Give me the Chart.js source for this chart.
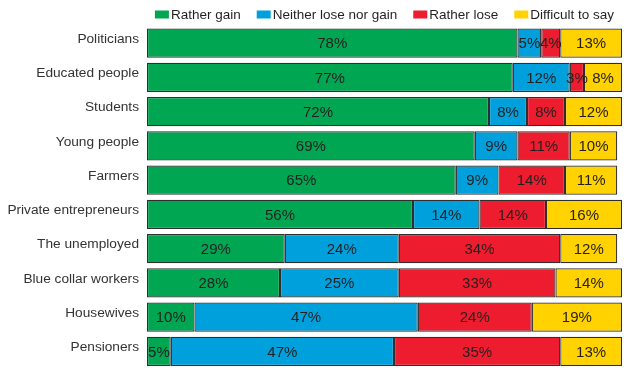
<!DOCTYPE html>
<html>
<head>
<meta charset="utf-8">
<script src="https://cdn.jsdelivr.net/npm/chart.js@4/dist/chart.umd.min.js"></script>
<style>
  body { margin: 0; background: #fff; }
  #box { width: 624px; height: 374px; }
</style>
</head>
<body>
<div id="box"><canvas id="graphe"></canvas></div>
<script>
// groups and answers (in %)
const groups = ['Politicians', 'Educated people', 'Students', 'Young people', 'Farmers',
  'Private entrepreneurs', 'The unemployed', 'Blue collar workers', 'Housewives', 'Pensioners'];
const ratherGain = [78, 77, 72, 69, 65, 56, 29, 28, 10, 5];
const neitherLoseNorGain = [5, 12, 8, 9, 9, 14, 24, 25, 47, 47];
const ratherLose = [4, 3, 8, 11, 14, 14, 34, 33, 24, 35];
const difficultToSay = [13, 8, 12, 10, 11, 16, 12, 14, 19, 13];

const textColor = '#231f20';
const fontFamily = '"Liberation Sans", Arial, sans-serif';

// write the value in the middle of each segment
const segmentLabels = {
    id: 'segmentLabels',
    afterDatasetsDraw(chart) {
        const ctx = chart.ctx;
        ctx.save();
        ctx.font = '15px ' + fontFamily;
        ctx.fillStyle = textColor;
        ctx.textAlign = 'center';
        ctx.textBaseline = 'middle';
        chart.data.datasets.forEach((ds, i) => {
            chart.getDatasetMeta(i).data.forEach((bar, j) => {
                ctx.fillText(ds.data[j] + '%', (bar.x + bar.base) / 2, bar.y + 1);
            });
        });
        ctx.restore();
    }
};

// legend on one line, small gap between box and text, centred on the plot
const topLegend = {
    id: 'topLegend',
    afterDraw(chart) {
        const ctx = chart.ctx;
        const area = chart.chartArea;
        ctx.save();
        ctx.font = '13.5px ' + fontFamily;
        ctx.textBaseline = 'middle';
        const items = chart.data.datasets.map(ds => ({
            text: ds.label, color: ds.backgroundColor, w: ctx.measureText(ds.label).width
        }));
        const boxW = 14, gap = 2, spacing = 16;
        let total = 0;
        items.forEach((it, i) => { total += boxW + gap + it.w + (i ? spacing : 0); });
        let x = (area.left + area.right) / 2 - total / 2;
        items.forEach(it => {
            ctx.fillStyle = it.color;
            ctx.fillRect(x, 10.5, boxW, 8);
            ctx.fillStyle = textColor;
            ctx.fillText(it.text, x + boxW + gap, 15);
            x += boxW + gap + it.w + spacing;
        });
        ctx.restore();
    }
};

function serie(label, data, color) {
    return {
        label: label,
        data: data,
        backgroundColor: color,
        borderColor: '#2e2e2e',
        borderWidth: 1.2,
        borderSkipped: false,
        categoryPercentage: 0.858,
        barPercentage: 1
    };
}

new Chart(document.getElementById('graphe'), {
    type: 'bar',
    data: {
        labels: groups,
        datasets: [
            serie('Rather gain', ratherGain, '#00a651'),
            serie('Neither lose nor gain', neitherLoseNorGain, '#00a0dc'),
            serie('Rather lose', ratherLose, '#ed1c2e'),
            serie('Difficult to say', difficultToSay, '#ffd200')
        ]
    },
    options: {
        indexAxis: 'y',
        responsive: true,
        maintainAspectRatio: false,
        animation: false,
        layout: { padding: { left: 0, right: 2, top: 26, bottom: 5.5 } },
        scales: {
            x: {
                stacked: true,
                min: 0,
                max: 100,
                display: false
            },
            y: {
                stacked: true,
                afterFit(scale) {
                    scale.width = 147;
                    scale.paddingTop = 0;
                    scale.paddingBottom = 0;
                },
                grid: { display: false, drawTicks: false },
                border: { display: false },
                ticks: {
                    padding: 8,
                    labelOffset: -4,
                    color: '#333333',
                    font: { family: fontFamily, size: 13.7 }
                }
            }
        },
        plugins: {
            tooltip: { enabled: false },
            legend: { display: false }
        }
    },
    plugins: [segmentLabels, topLegend]
});
</script>
</body>
</html>
